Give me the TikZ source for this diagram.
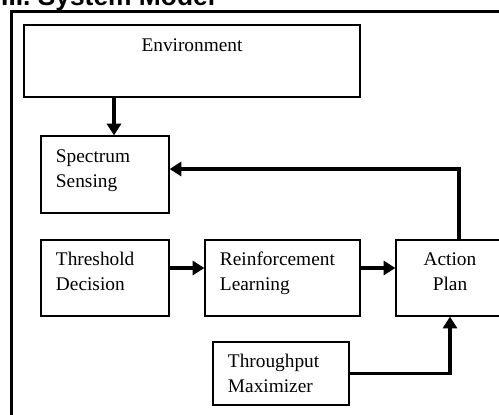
\documentclass[tikz,border=0pt]{standalone}
\usepackage{fontspec}
\setmainfont{Liberation Serif}
\newfontfamily\headfont{Liberation Sans}
\usetikzlibrary{arrows.meta}

\begin{document}
\begin{tikzpicture}[x=0.03cm,y=-0.03cm,>={Triangle[length=10pt,width=12pt]},
                font=\fontsize{16.5}{21.3}\selectfont,
                block/.style={rectangle,draw,line width=1.1pt,inner xsep=0.45cm,align=left},
                raised/.style={text height=11.5pt,text depth=32pt},
                link/.style={->,line width=2.8pt}]
                \useasboundingbox (0,0) rectangle (499,414);
                \clip (0,0) rectangle (499,414);
                % heading, cut off at the top
                \node[anchor=base west,inner sep=0pt,font=\headfont\bfseries\fontsize{22.5}{26}\selectfont] (title) at (1,5) {III. System Model};
                \draw[line width=2.2pt] (11.5,11.5) rectangle (530,440);

                \node[block,align=center,text width=9.18cm,minimum height=2.16cm] (env) at (192,61) {Environment\\\strut};
                \node[block,raised,text width=2.94cm,minimum height=2.31cm] (sense) at (105,174.5) {Spectrum\\Sensing};
                \node[block,raised,text width=2.94cm,minimum height=2.28cm] (thresh) at (105,278) {Threshold\\Decision};
                \node[block,raised,text width=3.75cm,minimum height=2.28cm] (learn) at (282.5,278) {Reinforcement\\Learning};
                \node[block,raised,align=center,text width=2.34cm,minimum height=2.28cm] (plan) at (450,278) {Action\\Plan};
                \node[block,text width=3.18cm,minimum height=1.89cm] (maxim) at (281,373.5) {Throughput\\Maximizer};

                \draw[link] ([xshift=0.27cm]sense.north |- env.south) -- ([xshift=0.27cm]sense.north);
                \draw[link] ([xshift=0.27cm]plan.north) |- ([yshift=0.165cm]sense.east);
                \draw[link] ([yshift=0.3cm]thresh.east) -- ([yshift=0.3cm]learn.west);
                \draw[link] ([yshift=0.3cm]learn.east) -- ([yshift=0.3cm]plan.west);
                \draw[link] (maxim.east) -| (plan.south);
\end{tikzpicture}
\end{document}
